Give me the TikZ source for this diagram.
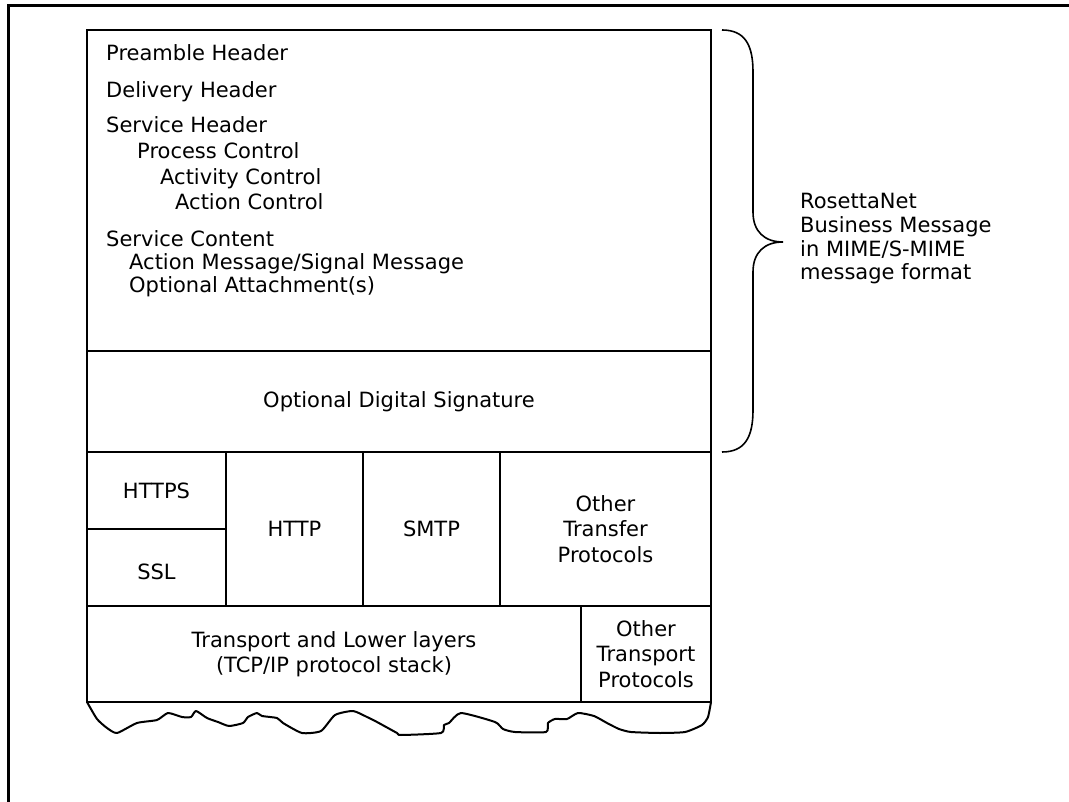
\documentclass[tikz,border=0pt]{standalone}
\usepackage{fontspec}
\setmainfont{DejaVu Sans}
\begin{document}
\begin{tikzpicture}[x=1pt,y=-1pt,
  every node/.style={font=\fontsize{21}{25.5}\selectfont, inner sep=0pt},
  cell/.style={draw, line width=2pt, rectangle, align=center},
  item/.style={anchor=base west},
  side/.style={anchor=base west, align=left}]
\useasboundingbox (0,0) rectangle (1069,802);
% outer frame (clipped)
\coordinate (fbl) at (8,802);
\coordinate (ftl) at (8,6);
\coordinate (ftr) at (1069,6);
\draw[line width=3pt] (fbl) -- (ftl) -- (ftr);
% cells
\node[cell, minimum width=624pt, minimum height=321pt] (msg) at (399,190.5) {};
\node[cell, minimum width=624pt, minimum height=101pt] (sig) at (399,401.5) {Optional Digital Signature};
\node[cell, minimum width=139pt, minimum height=77pt] (https) at (156.5,490.5) {HTTPS};
\node[cell, minimum width=139pt, minimum height=77pt] (ssl) at (156.5,567.5) {};
\node (ssltext) at (156.5,571.5) {SSL};
\node[cell, minimum width=137pt, minimum height=154pt] (http) at (294.5,529) {HTTP};
\node[cell, minimum width=137pt, minimum height=154pt] (smtp) at (431.5,529) {SMTP};
\node[cell, minimum width=211pt, minimum height=154pt] (otp) at (605.5,529) {Other\\Transfer\\Protocols};
\node[cell, minimum width=494pt, minimum height=96pt] (tl) at (334,654) {Transport and Lower layers\\(TCP/IP protocol stack)};
\node[cell, minimum width=130pt, minimum height=96pt] (otr) at (646,654) {Other\\Transport\\Protocols};
% message contents
\node[item] (pre) at (106,61) {Preamble Header};
\node[item] (del) at (106,98) {Delivery Header};
\node[item] (sh) at (106,133) {Service Header};
\node[item] (pc) at (137,159) {Process Control};
\node[item] (ac) at (160,185) {Activity Control};
\node[item] (acc) at (175,210) {Action Control};
\node[item] (sc) at (106,247) {Service Content};
\node[item] (am) at (129,270) {Action Message/Signal Message};
\node[item] (oa) at (129,293) {Optional Attachment(s)};
% wavy bottom
\draw[line width=2pt, line join=round] plot[smooth, tension=0.35] coordinates {
 (87,702) (97,719) (107,728) (117,733) (137,723) (157,720) (168,713) (182,717) (191,717)
 (196,711) (207,718) (218,722) (229,726) (243,723) (248,717) (257,713) (262,716) (277,718)
 (283,723) (302,733) (321,731) (335,715) (353,711) (367,717) (377,722) (397,733)
 (401,735) (441,733) (444,725) (449,723) (461,713) (495,722) (503,729) (515,732)
 (546,732) (548,723) (555,719) (567,719) (578,713) (594,716) (607,723) (619,729)
 (631,732) (660,733) (685,732) (702,725) (708,717) (711,702)};
% brace
\coordinate (bt) at (722,30);
\coordinate (bb) at (722,452);
\coordinate (tip) at (783,242);
\draw[line width=1.6pt] (bt) .. controls (745,30) and (753,45) .. (753,72) -- (753,212)
  .. controls (753,232) and (765,242) .. (tip)
  .. controls (765,242) and (753,252) .. (753,272) -- (753,410)
  .. controls (753,437) and (745,452) .. (bb);
% side label
\node[item] (r1) at (800,209) {RosettaNet};
\node[item] (r2) at (800,233) {Business Message};
\node[item] (r3) at (800,257) {in MIME/S-MIME};
\node[item] (r4) at (800,280) {message format};
\end{tikzpicture}
\end{document}
